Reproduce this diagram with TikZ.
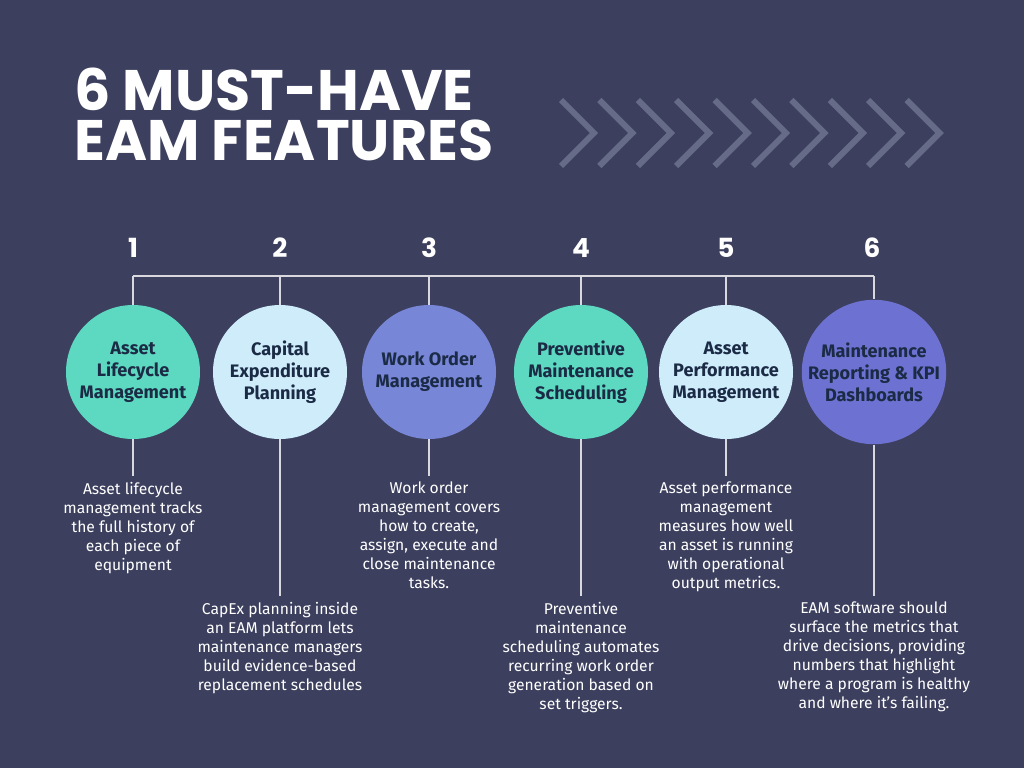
\documentclass[tikz,border=0pt]{standalone}
\usepackage{fontspec}
\setmainfont{Fira Sans}
\newfontfamily\titlefont{Poppins}
\usetikzlibrary{positioning}
\definecolor{bgnavy}{HTML}{3C405E}
\definecolor{tealc}{HTML}{5DD9C1}
\definecolor{lightc}{HTML}{CFECFA}
\definecolor{periw}{HTML}{7886D8}
\definecolor{violc}{HTML}{6D71D1}
\definecolor{inkc}{HTML}{1B2B45}
\definecolor{chevc}{HTML}{666C88}
\definecolor{wirec}{HTML}{D8D8DE}
\tikzset{
  feature/.style={circle, minimum size=134*0.02cm, inner sep=0pt, align=center,
    text=inkc, font=\fontsize{10.3}{12.5}\selectfont\bfseries},
  num/.style={text=white, font=\titlefont\fontsize{15}{15}\selectfont\bfseries},
  note/.style={text=white, align=center, anchor=north,
    font=\fontsize{8.9}{10.8}\selectfont},
  headline/.style={anchor=south west, inner sep=0pt, text=white,
    font=\titlefont\fontsize{32.5}{32.5}\selectfont\bfseries},
  wire/.style={draw=wirec, line width=1.1pt}
}
\begin{document}
\begin{tikzpicture}[x=0.02cm,y=-0.02cm]
  \fill[bgnavy] (0,0) rectangle (1024,768);
  \useasboundingbox (0,0) rectangle (1024,768);

  % Title
  \node[headline] (title1) at (74,111) {6 MUST-HAVE};
  \node[headline] (title2) at (74,161) {EAM FEATURES};

  % Chevrons
  \foreach \i in {0,...,9}
    \draw[chevc, line width=3.4pt] ({561+38.4*\i},100) -- ({594+38.4*\i},133) -- ({561+38.4*\i},166);

  % Numbers
  \foreach \n/\x in {1/133,2/280,3/429,4/581,5/726,6/872}
    \node[num] (n\n) at (\x,248) {\n};

  % Circles
  \node[feature, fill=tealc]  (c1) at (133,372) {Asset\\Lifecycle\\Management};
  \node[feature, fill=lightc] (c2) at (280,372) {Capital\\Expenditure\\Planning};
  \node[feature, fill=periw]  (c3) at (429,372) {Work Order\\Management};
  \node[feature, fill=tealc]  (c4) at (581,372) {Preventive\\Maintenance\\Scheduling};
  \node[feature, fill=lightc] (c5) at (726,372) {Asset\\Performance\\Management};
  \node[feature, fill=violc]  (c6) at (874,372) {Maintenance\\Reporting \& KPI\\Dashboards};

  % Bar
  \foreach \k/\x in {1/133,2/280,3/429,4/581,5/726,6/874}
    \coordinate (b\k) at (\x,276);
  \draw[wire] (b1) -- (b6);
  \foreach \k in {1,...,6}
    \draw[wire] (b\k) -- (c\k.north);

  % Notes
  \node[note] (t1) at (133,476) {Asset lifecycle\\management tracks\\the full history of\\each piece of\\equipment};
  \node[note] (t2) at (280,596) {CapEx planning inside\\an EAM platform lets\\maintenance managers\\build evidence-based\\replacement schedules};
  \node[note] (t3) at (429,476) {Work order\\management covers\\how to create,\\assign, execute and\\close maintenance\\tasks.};
  \node[note] (t4) at (581,596) {Preventive\\maintenance\\scheduling automates\\recurring work order\\generation based on\\set triggers.};
  \node[note] (t5) at (726,476) {Asset performance\\management\\measures how well\\an asset is running\\with operational\\output metrics.};
  \node[note] (t6) at (874,596) {EAM software should\\surface the metrics that\\drive decisions, providing\\numbers that highlight\\where a program is healthy\\and where it's failing.};

  \foreach \k in {1,...,6}
    \draw[wire] (c\k.south) -- (t\k.north);
\end{tikzpicture}
\end{document}
